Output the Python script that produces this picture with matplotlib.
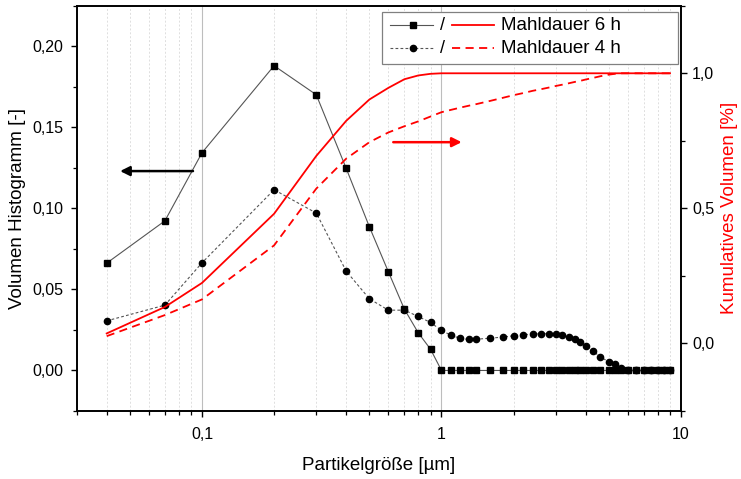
import matplotlib
matplotlib.use("Agg")
import matplotlib.pyplot as plt
from matplotlib.ticker import FixedLocator, FuncFormatter, MultipleLocator, LogLocator, NullFormatter
from matplotlib.patches import Rectangle
from matplotlib.lines import Line2D

plt.rcParams['font.family'] = ['Liberation Sans', 'DejaVu Sans']

# ---- data ----
partikel = [0.04, 0.07, 0.1, 0.2, 0.3, 0.4, 0.5, 0.6, 0.7, 0.8, 0.9,
            1.0, 1.1, 1.2, 1.3, 1.4, 1.6, 1.8, 2.0, 2.2, 2.4, 2.6, 2.8, 3.0,
            3.2, 3.4, 3.6, 3.8, 4.0, 4.3, 4.6, 5.0, 5.3, 5.6, 6.0, 6.5, 7.0,
            7.5, 8.0, 8.5, 9.0]

hist_6h = [0.0662, 0.0923, 0.1343, 0.1880, 0.1701, 0.1247, 0.0886, 0.0609, 0.0378, 0.0232, 0.0131,
           0.0, 0.0, 0.0, 0.0, 0.0, 0.0, 0.0, 0.0, 0.0, 0.0, 0.0, 0.0, 0.0,
           0.0, 0.0, 0.0, 0.0, 0.0, 0.0, 0.0, 0.0, 0.0, 0.0, 0.0, 0.0, 0.0,
           0.0, 0.0, 0.0, 0.0]

hist_4h = [0.0306, 0.0403, 0.0664, 0.1115, 0.0971, 0.0613, 0.0442, 0.0372, 0.0372, 0.0333, 0.0296,
           0.0247, 0.0216, 0.0198, 0.0191, 0.0193, 0.0199, 0.0206, 0.0214, 0.0220, 0.0225, 0.0226, 0.0227, 0.0225,
           0.0218, 0.0204, 0.0191, 0.0177, 0.0152, 0.0119, 0.0084, 0.0053, 0.0037, 0.0016, 0.0, 0.0, 0.0,
           0.0, 0.0, 0.0, 0.0]

kum_6h = [0.037, 0.135, 0.224, 0.480, 0.694, 0.824, 0.903, 0.946, 0.978, 0.992, 0.998,
          1.0, 1.0, 1.0, 1.0, 1.0, 1.0, 1.0, 1.0, 1.0, 1.0, 1.0, 1.0, 1.0,
          1.0, 1.0, 1.0, 1.0, 1.0, 1.0, 1.0, 1.0, 1.0, 1.0, 1.0, 1.0, 1.0,
          1.0, 1.0, 1.0, 1.0]

kum_4h = [0.027, 0.105, 0.163, 0.363, 0.573, 0.684, 0.745, 0.781, 0.804, 0.822, 0.840,
          0.856, 0.865, 0.873, 0.880, 0.886, 0.898, 0.909, 0.919, 0.927, 0.935, 0.941, 0.947, 0.953,
          0.958, 0.963, 0.968, 0.972, 0.977, 0.983, 0.989, 0.995, 0.998, 1.0, 1.0, 1.0, 1.0,
          1.0, 1.0, 1.0, 1.0]

labels = ["Mahldauer 6 h", "Mahldauer 4 h"]
x_ticks = [0.1, 1, 10]
y_left_ticks = [0.0, 0.05, 0.10, 0.15, 0.20]
y_right_ticks = [0.0, 0.5, 1.0]

# ---- figure ----
fig = plt.figure(figsize=(7.41, 4.79), dpi=100)
ax = fig.add_axes([0.1036, 0.142, 0.8154, 0.846])
ax2 = ax.twinx()

ax.set_xscale('log')
ax.set_xlim(0.03, 10)
ax.set_ylim(-0.025, 0.225)
ax2.set_ylim(-0.25, 1.25)

# grid
ax.xaxis.set_major_locator(FixedLocator(x_ticks))
ax.xaxis.set_minor_locator(LogLocator(base=10, subs=[2, 3, 4, 5, 6, 7, 8, 9]))
ax.xaxis.set_minor_formatter(NullFormatter())
ax.xaxis.set_major_formatter(FuncFormatter(lambda v, p: f"{v:g}".replace('.', ',')))
ax.grid(True, which='major', axis='x', color='#bdbdbd', lw=0.8, ls='-')
ax.grid(True, which='minor', axis='x', color='#dedede', lw=0.7, ls=(0, (2, 2)))
ax.set_axisbelow(True)

# histogram series
ax.plot(partikel, hist_6h, color='#555555', lw=0.8, marker='s', ms=4.0,
        mfc='black', mec='black', zorder=3)
ax.plot(partikel, hist_4h, color='#555555', lw=0.8, ls=(0, (2.5, 2)), marker='o', ms=4.5,
        mfc='black', mec='black', zorder=3)

# cumulative series
ax2.plot(partikel, kum_6h, color='red', lw=1.3, zorder=2)
ax2.plot(partikel, kum_4h, color='red', lw=1.3, ls=(0, (4.5, 3)), zorder=2)

# y axes
ax.yaxis.set_major_locator(FixedLocator(y_left_ticks))
ax.yaxis.set_minor_locator(MultipleLocator(0.025))
ax.yaxis.set_major_formatter(FuncFormatter(lambda v, p: f"{v:.2f}".replace('.', ',')))
ax2.yaxis.set_major_locator(FixedLocator(y_right_ticks))
ax2.yaxis.set_minor_locator(MultipleLocator(0.25))
ax2.yaxis.set_major_formatter(FuncFormatter(lambda v, p: f"{v:.1f}".replace('.', ',')))

for a in (ax, ax2):
    a.tick_params(which='major', direction='out', length=4.5, width=1.0, labelsize=11.5, color='black')
    a.tick_params(which='minor', direction='out', length=2.8, width=0.9, color='black')
    for s in a.spines.values():
        s.set_linewidth(1.2)
        s.set_color('black')
ax.tick_params(axis='y', which='both', right=False)
ax.tick_params(axis='y', which='major', pad=5)
ax.tick_params(axis='x', which='both', top=False)
ax.tick_params(axis='x', which='major', pad=7)

ax.set_xlabel("Partikelgröße [µm]", fontsize=13.5, labelpad=11)
ax.set_ylabel("Volumen Histogramm [-]", fontsize=13.5, labelpad=5)
ax2.set_ylabel("Kumulatives Volumen [%]", fontsize=13.5, color='red', labelpad=5)

# arrows
ax.annotate('', xy=(0.0455, 0.123), xytext=(0.0917, 0.123),
            arrowprops=dict(arrowstyle='-|>', color='black', lw=1.8, mutation_scale=14,
                            shrinkA=0, shrinkB=0), zorder=4)
ax2.annotate('', xy=(1.214, 0.745), xytext=(0.629, 0.745),
             arrowprops=dict(arrowstyle='-|>', color='red', lw=1.8, mutation_scale=14,
                             shrinkA=0, shrinkB=0), zorder=4)

# legend (drawn manually in axes fraction)
T = ax2.transAxes
ax2.add_patch(Rectangle((0.5046, 0.856), 0.4904, 0.129, transform=T, facecolor='white',
                        edgecolor='#808080', lw=0.9, zorder=10, clip_on=False))
rows = [0.952, 0.895]
styles_b = [dict(ls='-', marker='s', ms=4.0), dict(ls=(0, (2.5, 2)), marker='o', ms=4.5)]
styles_r = ['-', (0, (4.5, 3))]
for yy, sb, sr, lab in zip(rows, styles_b, styles_r, labels):
    ax2.add_line(Line2D([0.5187, 0.5889], [yy, yy], transform=T, color='#555555', lw=0.8,
                        ls=sb['ls'], zorder=11, clip_on=False))
    ax2.add_line(Line2D([0.556], [yy], transform=T, marker=sb['marker'], ms=sb['ms'],
                        mfc='black', mec='black', ls='none', zorder=12, clip_on=False))
    ax2.text(0.6045, yy, "/", transform=T, fontsize=13, ha='center', va='center', zorder=12)
    ax2.add_line(Line2D([0.6205, 0.6906], [yy, yy], transform=T, color='red', lw=1.3,
                        ls=sr, zorder=11, clip_on=False))
    ax2.text(0.7016, yy, lab, transform=T, fontsize=13.5, ha='left', va='center', zorder=12)

fig.savefig("out.png", dpi=100)
